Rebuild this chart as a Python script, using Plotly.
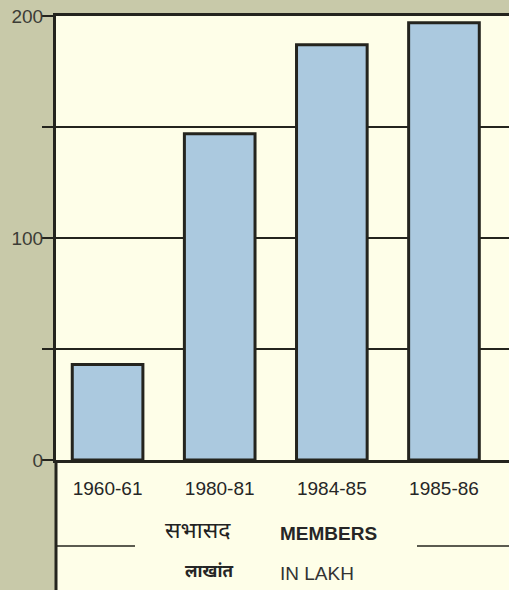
import plotly.graph_objects as go

# Membership figures (in lakh) by year
years = ["1960-61", "1980-81", "1984-85", "1985-86"]
members = [43, 147, 187, 197]

# Value-axis ticks: a tick every 50, labelled every 100
y_tick_vals = [0, 50, 100, 150, 200]
y_tick_text = ["0", "", "100", "", "200"]

OLIVE = "#c8c9a9"
CREAM = "#fefee8"
INK = "#24241e"
BAR = "#abc9df"

W, H = 509, 590
L, T, B = 56, 16, 130
plot_h = H - T - B
plot_w = W - L


def px_y(y):
    """Pixel row -> paper y fraction."""
    return (H - B - y) / plot_h


def px_x(x):
    """Pixel column -> paper x fraction."""
    return (x - L) / plot_w


fig = go.Figure(
    go.Bar(
        x=years,
        y=members,
        width=0.63,
        marker=dict(color=BAR, line=dict(color=INK, width=3)),
        hoverinfo="x+y",
    )
)

latin = "Liberation Sans, Arial, sans-serif"
deva = "Noto Sans Devanagari, Lohit Devanagari, Mukta, sans-serif"

fig.update_layout(
    width=W,
    height=H,
    margin=dict(l=L, r=0, t=T, b=B, pad=0),
    paper_bgcolor=OLIVE,
    plot_bgcolor=CREAM,
    showlegend=False,
    bargap=0.37,
    xaxis=dict(
        range=[-0.46, 3.58],
        showgrid=False,
        showline=True,
        mirror=True,
        linecolor=INK,
        linewidth=3,
        ticks="outside",
        ticklen=9,
        tickcolor="rgba(0,0,0,0)",
        tickfont=dict(family=latin, size=19, color="#262626"),
        fixedrange=True,
    ),
    yaxis=dict(
        range=[0, 200],
        tickvals=y_tick_vals,
        ticktext=y_tick_text,
        showgrid=True,
        gridcolor=INK,
        gridwidth=1.6,
        zeroline=False,
        showline=True,
        linecolor=INK,
        linewidth=3,
        ticks="outside",
        ticklen=11,
        tickwidth=1.6,
        tickcolor=INK,
        ticklabelstandoff=-5,
        tickfont=dict(family=latin, size=19, color="#3c3c36"),
        fixedrange=True,
    ),
)

# Cream panel continuing below the value axis, holding the caption
fig.add_shape(type="rect", xref="paper", yref="paper",
              x0=0, x1=1, y0=px_y(H + 5), y1=0,
              fillcolor=CREAM, line=dict(width=0), layer="below")
# Value axis line carried down through the caption panel
fig.add_shape(type="line", xref="paper", yref="paper",
              x0=0, x1=0, y0=0, y1=px_y(H + 5),
              line=dict(color=INK, width=3))
# Short rules either side of the caption
fig.add_shape(type="line", xref="paper", yref="paper",
              x0=0, x1=px_x(135), y0=px_y(546), y1=px_y(546),
              line=dict(color=INK, width=1.6))
fig.add_shape(type="line", xref="paper", yref="paper",
              x0=px_x(417), x1=1, y0=px_y(546), y1=px_y(546),
              line=dict(color=INK, width=1.6))

captions = [
    ("सभासद", 198, 532, "center", dict(family=deva, size=23, color="#222222")),
    ("<b>MEMBERS</b>", 278, 533, "left", dict(family=latin, size=19, color="#262626")),
    ("<b>लाखांत</b>", 209, 573, "center", dict(family=deva, size=17, color="#262626")),
    ("IN LAKH", 278, 573, "left", dict(family=latin, size=19, color="#333333")),
]
for text, x, y, anchor, font in captions:
    fig.add_annotation(text=text, xref="paper", yref="paper",
                       x=px_x(x), y=px_y(y), xanchor=anchor, yanchor="middle",
                       showarrow=False, font=font)

fig.write_html("out.html")
